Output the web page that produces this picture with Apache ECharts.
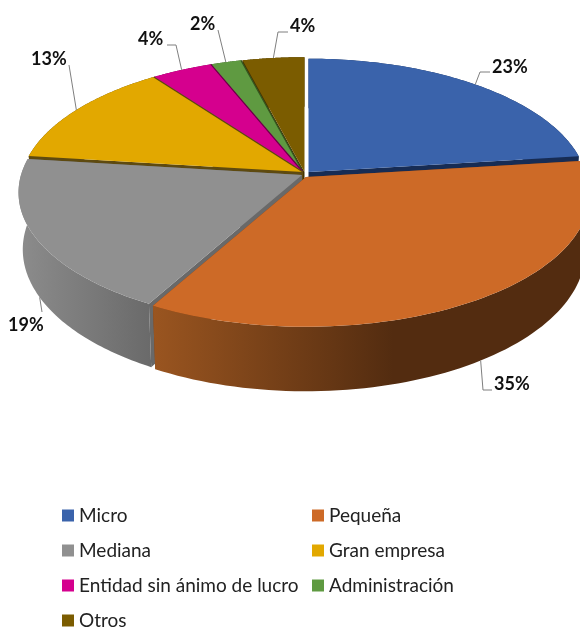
<!DOCTYPE html>
<html>
<head>
<meta charset="utf-8">
<style>html,body{margin:0;padding:0;background:#fff}#main{width:580px;height:630px}</style>
<script src="https://cdn.jsdelivr.net/npm/echarts@6/dist/echarts.min.js"></script>
</head>
<body>
<div id="main"></div>
<script>
// datos
var categories = ['Micro', 'Pequeña', 'Mediana', 'Gran empresa', 'Entidad sin ánimo de lucro', 'Administración', 'Otros'];
var values = [23, 35, 19, 13, 4, 2, 4];
var colors = ['#3A63AB', '#CD6A27', '#909090', '#E2A800', '#D5008E', '#5F9A41', '#7B5C00'];
var wallColors = ['#172C54', '#7A3F16', '#696969', '#5E4A10', '#6B0047', '#35551F', '#453300'];

// perspectiva de la tarta
var cx = 303, cy = 172, rx = 281, ry = 130, persp = 0.132, depth = 56, bottomScale = 0.985;
var offsets = [[5.5, 0], [3, 5], [-1, 3], [0, 0], [0, 0], [0, 0], [1.5, 0]];
var radius = [0.985, 1, 1, 1, 1, 1, 1];
// etiquetas: posicion del texto y codo de la linea guia
var labelPos = [[492, 67], [494, 384], [8, 325], [31, 59], [138, 39], [190, 24], [290, 26]];
var elbows = [[[480, 72], [490, 72]], [[483, 390], [492, 390]], [[42, 312]], [[69, 65]], [[176, 45], [167, 45]], [[218, 30]], [[278, 32], [288, 32]]];
var drawOrder = [6, 5, 4, 3, 0, 2, 1];

var total = values.reduce(function (a, b) { return a + b; }, 0);

function project(angle, r, off, low) {
  var X = r * Math.sin(angle), Y = -r * Math.cos(angle), w = 1 - persp * Y;
  return [
    cx + off[0] + rx * X / w * (low ? bottomScale : 1),
    cy + off[1] + ry * Y / w + (low ? depth / w : 0)
  ];
}

function arc(a0, a1, r, off, low) {
  var pts = [], n = 80;
  for (var i = 0; i <= n; i++) {
    pts.push(project(a0 + (a1 - a0) * i / n, r, off, low));
  }
  return pts;
}

function renderSlice(idx) {
  return function (params, api) {
    var before = 0;
    for (var i = 0; i < idx; i++) before += values[i];
    var v = api.value(0);
    var a0 = before / total * Math.PI * 2, a1 = (before + v) / total * Math.PI * 2;
    var off = offsets[idx], r = radius[idx];
    var top = arc(a0, a1, r, off, false);
    var low = arc(a0, a1, r, off, true);
    var apex = project(0, 0, off, false), apexLow = project(0, 0, off, true);
    var children = [];
    // paredes radiales
    [0, 80].forEach(function (k) {
      children.push({
        type: 'polygon',
        shape: { points: [apex, top[k], low[k], apexLow] },
        style: { fill: wallColors[idx] }
      });
    });
    // pared exterior con degradado
    var fill = wallColors[idx];
    if (idx === 1) {
      fill = new echarts.graphic.LinearGradient(0, 0, 1, 0, [
        { offset: 0, color: '#9A5520' }, { offset: 0.55, color: '#532C10' }, { offset: 1, color: '#532C10' }
      ]);
    } else if (idx === 2) {
      fill = new echarts.graphic.LinearGradient(0, 0, 1, 0, [
        { offset: 0, color: '#8C8C8C' }, { offset: 1, color: '#6A6A6A' }
      ]);
    }
    children.push({
      type: 'polygon',
      shape: { points: top.concat(low.slice().reverse()) },
      style: { fill: fill }
    });
    // cara superior
    children.push({
      type: 'polygon',
      shape: { points: [apex].concat(top) },
      style: { fill: colors[idx] }
    });
    // linea oscura entre porciones de atras
    if (idx >= 3 && idx <= 5) {
      children.push({
        type: 'line',
        shape: { x1: apex[0], y1: apex[1], x2: top[80][0], y2: top[80][1] },
        style: { stroke: wallColors[idx], lineWidth: 1.2 }
      });
    }
    // linea guia y etiqueta
    var anchor = project((a0 + a1) / 2, r, off, idx === 1 || idx === 2);
    children.push({
      type: 'polyline',
      shape: { points: [anchor].concat(elbows[idx]) },
      style: { stroke: '#7F7F7F', lineWidth: 1, fill: null }
    });
    children.push({
      type: 'text',
      x: labelPos[idx][0],
      y: labelPos[idx][1],
      style: {
        text: Math.round(v / total * 100) + '%',
        font: 'bold 18px Lato',
        fill: '#111',
        textAlign: 'left',
        textVerticalAlign: 'middle'
      }
    });
    return { type: 'group', children: children };
  };
}

var series = categories.map(function (name, i) {
  return {
    type: 'custom',
    name: name,
    coordinateSystem: 'none',
    z: 2 + drawOrder.indexOf(i),
    silent: true,
    itemStyle: { color: colors[i] },
    data: [[values[i]]],
    renderItem: renderSlice(i)
  };
});

function legendBox(names, left) {
  return {
    data: names,
    orient: 'vertical',
    left: left,
    top: 506,
    height: 140,
    padding: 0,
    itemWidth: 12,
    itemHeight: 12,
    itemGap: 16,
    icon: 'rect',
    selectedMode: false,
    textStyle: { fontFamily: 'Lato', fontSize: 19, color: '#222', padding: [0, 0, 0, 0] }
  };
}

var chart = echarts.init(document.getElementById('main'));
chart.setOption({
  animation: false,
  backgroundColor: '#fff',
  legend: [
    legendBox([categories[0], categories[2], categories[4], categories[6]], 62),
    legendBox([categories[1], categories[3], categories[5]], 312)
  ],
  series: series
});
</script>
</body>
</html>
